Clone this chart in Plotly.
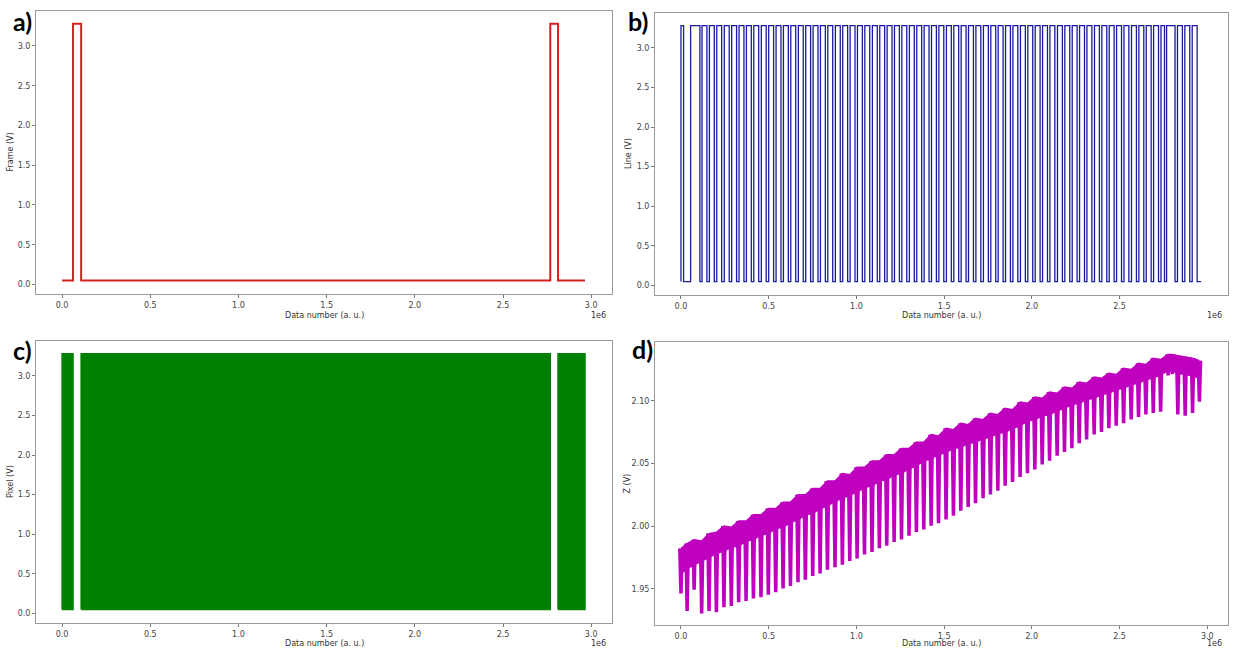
import plotly.graph_objects as go

W, H = 1233, 648

# ---------------- data (x in units of 1e6 data points) ----------------
data_end = 2.965
v_low = 0.05
v_high = 3.28

frame_rise = [0.062, 2.768]
frame_fall = [0.108, 2.812]

line_rise = [0.000, 0.055,
             0.120, 0.162, 0.204, 0.247, 0.289, 0.331, 0.373, 0.415, 0.458, 0.500,
             0.542, 0.584, 0.626, 0.669, 0.711, 0.753, 0.795, 0.837, 0.880, 0.922,
             0.964, 1.006, 1.048, 1.091, 1.133, 1.175, 1.217, 1.259, 1.302, 1.344,
             1.386, 1.428, 1.470, 1.513, 1.555, 1.597, 1.639, 1.681, 1.724, 1.766,
             1.808, 1.850, 1.892, 1.935, 1.977, 2.019, 2.061, 2.103, 2.146, 2.188,
             2.230, 2.272, 2.314, 2.357, 2.399, 2.441, 2.483, 2.525, 2.568, 2.610,
             2.652, 2.694, 2.736,
             2.768, 2.830, 2.872, 2.914]
line_fall = [0.015, 0.108,
             0.148, 0.190, 0.232, 0.275, 0.317, 0.359, 0.401, 0.443, 0.486, 0.528,
             0.570, 0.612, 0.654, 0.697, 0.739, 0.781, 0.823, 0.865, 0.908, 0.950,
             0.992, 1.034, 1.076, 1.119, 1.161, 1.203, 1.245, 1.287, 1.330, 1.372,
             1.414, 1.456, 1.498, 1.541, 1.583, 1.625, 1.667, 1.709, 1.752, 1.794,
             1.836, 1.878, 1.920, 1.963, 2.005, 2.047, 2.089, 2.131, 2.174, 2.216,
             2.258, 2.300, 2.342, 2.385, 2.427, 2.469, 2.511, 2.553, 2.596, 2.638,
             2.680, 2.722, 2.756,
             2.816, 2.858, 2.900, 2.942]

pixel_start = [0.000, 0.108, 2.812]
pixel_end = [0.062, 2.768, 2.965]

z_x = [0.000, 0.035, 0.075,
       0.118, 0.160, 0.202, 0.245, 0.287, 0.329, 0.371, 0.413, 0.456, 0.498,
       0.540, 0.582, 0.624, 0.667, 0.709, 0.751, 0.793, 0.835, 0.878, 0.920,
       0.962, 1.004, 1.046, 1.089, 1.131, 1.173, 1.215, 1.257, 1.300, 1.342,
       1.384, 1.426, 1.468, 1.511, 1.553, 1.595, 1.637, 1.679, 1.722, 1.764,
       1.806, 1.848, 1.890, 1.933, 1.975, 2.017, 2.059, 2.101, 2.144, 2.186,
       2.228, 2.270, 2.312, 2.355, 2.397, 2.439, 2.481, 2.523, 2.566, 2.608,
       2.650, 2.692, 2.734,
       2.776, 2.800, 2.832, 2.874, 2.916, 2.955]
z_top = [1.982, 1.986, 1.989,
         1.988, 1.994, 1.995, 2.000, 1.999, 2.004, 2.004, 2.009, 2.009, 2.014,
         2.014, 2.019, 2.019, 2.025, 2.025, 2.030, 2.030, 2.036, 2.036, 2.042,
         2.041, 2.047, 2.047, 2.052, 2.052, 2.057, 2.057, 2.062, 2.062, 2.067,
         2.067, 2.073, 2.072, 2.078, 2.077, 2.082, 2.081, 2.086, 2.085, 2.090,
         2.089, 2.094, 2.093, 2.099, 2.098, 2.103, 2.102, 2.107, 2.106, 2.111,
         2.110, 2.115, 2.114, 2.119, 2.118, 2.122, 2.121, 2.126, 2.125, 2.130,
         2.129, 2.134, 2.133,
         2.137, 2.137, 2.136, 2.135, 2.134, 2.132]
z_band = [1.962, 1.966, 1.969,
          1.972, 1.975, 1.978, 1.980, 1.983, 1.984, 1.988, 1.989, 1.993, 1.994,
          1.998, 1.999, 2.003, 2.005, 2.009, 2.010, 2.014, 2.016, 2.020, 2.022,
          2.025, 2.027, 2.031, 2.032, 2.036, 2.037, 2.041, 2.042, 2.046, 2.048,
          2.052, 2.054, 2.057, 2.059, 2.062, 2.063, 2.066, 2.067, 2.070, 2.071,
          2.074, 2.075, 2.078, 2.080, 2.084, 2.085, 2.088, 2.089, 2.092, 2.094,
          2.097, 2.098, 2.101, 2.102, 2.105, 2.106, 2.109, 2.110, 2.113, 2.114,
          2.117, 2.118, 2.121,
          2.124, 2.124, 2.122, 2.121, 2.120, 2.118]
z_dip = [1.947, 1.933, 1.950,
         1.931, 1.933, 1.932, 1.936, 1.937, 1.940, 1.941, 1.943, 1.944, 1.946,
         1.948, 1.951, 1.953, 1.956, 1.958, 1.961, 1.963, 1.966, 1.968, 1.970,
         1.973, 1.975, 1.978, 1.980, 1.983, 1.985, 1.988, 1.990, 1.993, 1.996,
         1.998, 2.001, 2.003, 2.006, 2.009, 2.013, 2.016, 2.019, 2.023, 2.026,
         2.029, 2.033, 2.036, 2.040, 2.043, 2.046, 2.050, 2.053, 2.057, 2.060,
         2.063, 2.067, 2.070, 2.074, 2.076, 2.079, 2.081, 2.083, 2.086, 2.088,
         2.090, 2.091, 2.092,
         2.121, 2.122, 2.090, 2.089, 2.091, 2.100]

x_tickvals = [0.0, 0.5, 1.0, 1.5, 2.0, 2.5, 3.0]
x_ticktext = ["0.0", "0.5", "1.0", "1.5", "2.0", "2.5", "3.0"]
v_tickvals = [0.0, 0.5, 1.0, 1.5, 2.0, 2.5, 3.0]
v_ticktext = ["0.0", "0.5", "1.0", "1.5", "2.0", "2.5", "3.0"]
z_tickvals = [1.95, 2.00, 2.05, 2.10]
z_ticktext = ["1.95", "2.00", "2.05", "2.10"]

# ---------------- styling ----------------
RED = "#d42020"
BLUE = "#1c1ca0"
GREEN = "#008000"
MAG = "#bf00bf"
SPINE = "#9a9a9a"
TXT = "#444444"
FONT = "DejaVu Sans"


def square_wave(rises, falls, lo, hi, end):
    xs, ys = [0.0], [lo]
    for r, f in zip(rises, falls):
        xs += [r, f]
        ys += [hi, lo]
    xs.append(end)
    ys.append(lo)
    return xs, ys


fig = go.Figure()

# a) frame
fx, fy = square_wave(frame_rise, frame_fall, v_low, v_high, data_end)
fig.add_trace(go.Scatter(x=fx, y=fy, mode="lines", line=dict(color=RED, width=2, shape="hv"),
                         xaxis="x", yaxis="y", showlegend=False))

# b) line
lx, ly = square_wave(line_rise, line_fall, v_low, v_high, data_end)
fig.add_trace(go.Scatter(x=lx, y=ly, mode="lines", line=dict(color=BLUE, width=1.3, shape="hv"),
                         xaxis="x2", yaxis="y2", showlegend=False))

# c) pixel (dense toggling drawn as solid blocks)
for s, e in zip(pixel_start, pixel_end):
    fig.add_trace(go.Scatter(x=[s, s, e, e, s], y=[v_low, v_high, v_high, v_low, v_low],
                             mode="lines", fill="toself", fillcolor=GREEN,
                             line=dict(color=GREEN, width=1.5),
                             xaxis="x3", yaxis="y3", showlegend=False))

# d) Z : dense band plus per-line downward teeth
fig.add_trace(go.Scatter(x=z_x, y=z_top, mode="lines", line=dict(color=MAG, width=1.5),
                         xaxis="x4", yaxis="y4", showlegend=False))
fig.add_trace(go.Scatter(x=z_x, y=z_band, mode="lines", line=dict(color=MAG, width=1.5),
                         fill="tonexty", fillcolor=MAG,
                         xaxis="x4", yaxis="y4", showlegend=False))
sx, sy = [], []
half = 0.011
for xv, t, b, d in zip(z_x, z_top, z_band, z_dip):
    sx += [xv - half, xv - half * 0.4, xv, xv + half * 0.4, xv + half, None]
    sy += [t, d, d, d, t, None]
fig.add_trace(go.Scatter(x=sx, y=sy, mode="lines", line=dict(color=MAG, width=2),
                         fill="toself", fillcolor=MAG,
                         xaxis="x4", yaxis="y4", showlegend=False))


def px_x(p):
    return p / W


def px_y(p):
    return 1 - p / H


dom = {
    "a": ([36, 612], [11, 294]),
    "b": ([655, 1228], [13, 295]),
    "c": ([36, 612], [341, 623]),
    "d": ([655, 1228], [342, 625]),
}

xr = [-0.148, 3.118]
common_axis = dict(showline=True, mirror=True, linecolor=SPINE, linewidth=1,
                   ticks="outside", ticklen=3, tickcolor="#777", tickwidth=1,
                   showgrid=False, zeroline=False,
                   tickfont=dict(family=FONT, size=8, color=TXT))

names = ["a", "b", "c", "d"]
for i, n in enumerate(names):
    sfx = "" if i == 0 else str(i + 1)
    (x0, x1), (y0, y1) = dom[n]
    if n == "b":
        xtv, xtt = x_tickvals[:-1], x_ticktext[:-1]
    else:
        xtv, xtt = x_tickvals, x_ticktext
    fig.update_layout(**{
        "xaxis" + sfx: dict(domain=[px_x(x0), px_x(x1)], range=xr, tickvals=xtv, ticktext=xtt,
                            anchor="y" + sfx, **common_axis),
    })
    if n == "d":
        yax = dict(range=[1.921, 2.147], tickvals=z_tickvals, ticktext=z_ticktext)
    else:
        yax = dict(range=[-0.12, 3.44], tickvals=v_tickvals, ticktext=v_ticktext)
    fig.update_layout(**{
        "yaxis" + sfx: dict(domain=[px_y(y1), px_y(y0)], anchor="x" + sfx, **yax, **common_axis),
    })

annotations = []
# panel letters
for lab, lx0, ly0 in [("a)", 11, 4), ("b)", 626, 4), ("c)", 11, 333), ("d)", 630, 332)]:
    annotations.append(dict(text=f"<b>{lab}</b>", x=px_x(lx0), y=px_y(ly0), xref="paper", yref="paper",
                            xanchor="left", yanchor="top", showarrow=False,
                            font=dict(family="Lato", size=25, color="black")))
# y titles
for lab, xp, (yt, yb) in [("Frame (V)", 10, (11, 294)), ("Line (V)", 629, (13, 295)),
                          ("Pixel (V)", 10, (341, 623)), ("Z (V)", 627, (342, 625))]:
    annotations.append(dict(text=lab, x=px_x(xp), y=px_y((yt + yb) / 2), xref="paper", yref="paper",
                            textangle=-90, xanchor="center", yanchor="middle", showarrow=False,
                            font=dict(family=FONT, size=8, color="#333")))
# x titles and offset text
for (x0, x1), yp in [((36, 612), 315), ((655, 1228), 316), ((36, 612), 643), ((655, 1228), 643)]:
    annotations.append(dict(text="Data number (a. u.)", x=px_x((x0 + x1) / 2), y=px_y(yp),
                            xref="paper", yref="paper", xanchor="center", yanchor="middle",
                            showarrow=False, font=dict(family=FONT, size=8, color="#333")))
    annotations.append(dict(text="1e6", x=px_x(x1 - 4), y=px_y(yp), xref="paper", yref="paper",
                            xanchor="right", yanchor="middle", showarrow=False,
                            font=dict(family=FONT, size=8, color="#333")))

fig.update_layout(width=W, height=H, margin=dict(l=0, r=0, t=0, b=0),
                  paper_bgcolor="white", plot_bgcolor="white",
                  annotations=annotations, showlegend=False)

fig.write_html("out.html")
